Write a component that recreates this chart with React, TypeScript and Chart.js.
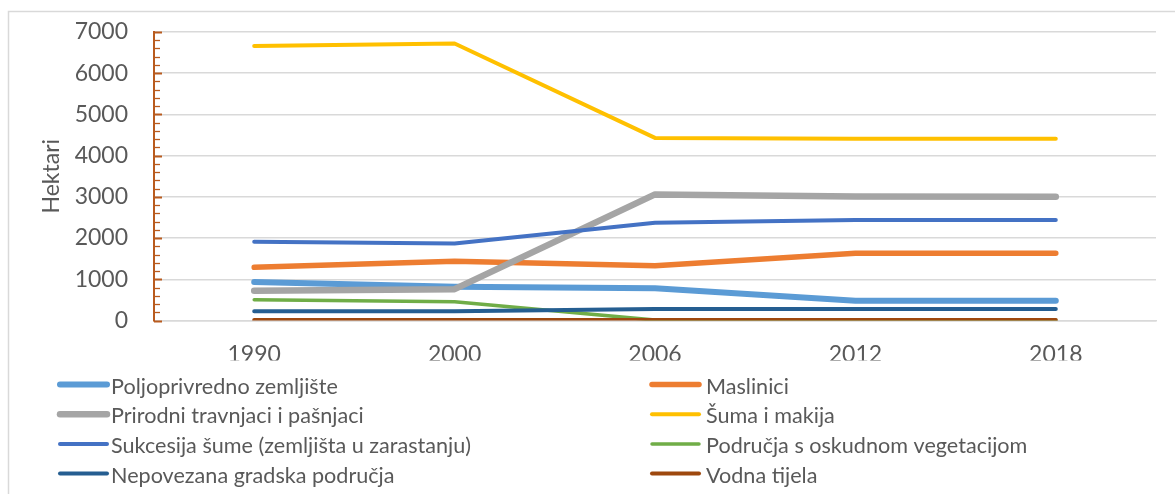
import React, { useEffect, useRef } from "react";
import { Chart, registerables } from "chart.js";

Chart.register(...registerables);

const years = ["1990", "2000", "2006", "2012", "2018"];
const seriesNames = [
  "Poljoprivredno zemljište",
  "Maslinici",
  "Prirodni travnjaci i pašnjaci",
  "Šuma i makija",
  "Sukcesija šume (zemljišta u zarastanju)",
  "Područja s oskudnom vegetacijom",
  "Nepovezana gradska područja",
  "Vodna tijela",
];
const poljoprivredno = [935, 820, 780, 480, 480];
const maslinici = [1290, 1435, 1330, 1630, 1630];
const travnjaci = [720, 760, 3060, 3010, 3005];
const suma = [6660, 6720, 4430, 4410, 4410];
const sukcesija = [1910, 1870, 2370, 2440, 2440];
const oskudna = [505, 455, 10, 10, 10];
const gradska = [223, 225, 280, 280, 280];
const vodna = [12, 12, 12, 12, 12];
const seriesValues = [poljoprivredno, maslinici, travnjaci, suma, sukcesija, oskudna, gradska, vodna];
const seriesColors = ["#5B9BD5", "#ED7D31", "#A5A5A5", "#FFC000", "#4472C4", "#70AD47", "#255E91", "#9E480E"];
const seriesWidths = [6, 5.5, 6.5, 4, 4, 3.5, 4, 4];
const yTicks = [0, 1000, 2000, 3000, 4000, 5000, 6000, 7000];

const FONT = "Lato, 'Open Sans', sans-serif";
const TEXT = "#595959";
const AXIS = "#B95B1E";

const decorPlugin = {
  id: "decor",
  afterDraw(chart: any) {
    const ctx = chart.ctx;
    const y = chart.scales.y;
    const area = chart.chartArea;
    ctx.save();
    // outer frame
    ctx.strokeStyle = "#d9d9d9";
    ctx.lineWidth = 1.5;
    ctx.strokeRect(8.5, 11.5, 1200, 600);
    // inner axis ticks (major + minor)
    ctx.strokeStyle = AXIS;
    for (let v = 0; v <= 7000; v += 200) {
      const py = Math.round(y.getPixelForValue(v)) + 0.5;
      const major = v % 1000 === 0;
      ctx.lineWidth = major ? 2 : 1.3;
      ctx.beginPath();
      ctx.moveTo(area.left, py);
      ctx.lineTo(area.left + (major ? 8 : 6), py);
      ctx.stroke();
    }
    // legend
    const colLine = [60, 652];
    const colText = [111, 706];
    const lineLen = 47;
    ctx.font = "21.6px " + FONT;
    ctx.fillStyle = TEXT;
    ctx.textBaseline = "alphabetic";
    ctx.textAlign = "left";
    chart.data.datasets.forEach((ds: any, i: number) => {
      const col = i % 2;
      const row = Math.floor(i / 2);
      const ly = 384.5 + row * 29.7;
      ctx.strokeStyle = ds.borderColor;
      ctx.lineWidth = ds.borderWidth;
      ctx.lineCap = "round";
      ctx.beginPath();
      ctx.moveTo(colLine[col], ly);
      ctx.lineTo(colLine[col] + lineLen, ly);
      ctx.stroke();
      ctx.fillText(ds.label, colText[col], ly + 9);
    });
    ctx.restore();
  },
};

export default function App() {
  const ref = useRef<HTMLCanvasElement | null>(null);
  useEffect(() => {
    if (!ref.current) return;
    const chart = new Chart(ref.current, {
      type: "line",
      data: {
        labels: years,
        datasets: seriesNames.map((name, i) => ({
          label: name,
          data: seriesValues[i],
          borderColor: seriesColors[i],
          backgroundColor: seriesColors[i],
          borderWidth: seriesWidths[i],
          pointRadius: 0,
          tension: 0,
          borderCapStyle: "round",
          borderJoinStyle: "round",
          fill: false,
          order: seriesNames.length - i,
        })),
      },
      options: {
        responsive: false,
        animation: false,
        layout: { padding: { left: 8, top: 32, right: 19, bottom: 133.5 } },
        plugins: { legend: { display: false }, tooltip: { enabled: false } },
        scales: {
          x: {
            offset: true,
            grid: { display: false, drawTicks: false, offset: true },
            border: { display: true, color: "#d9d9d9", width: 1.5 },
            ticks: { color: TEXT, font: { family: FONT, size: 23 }, padding: 20 },
            afterFit: (s: any) => {
              s.height = 40;
            },
          },
          y: {
            min: 0,
            max: 7000,
            afterBuildTicks: (s: any) => {
              s.ticks = yTicks.map((v) => ({ value: v }));
            },
            grid: { color: "#d9d9d9", lineWidth: 1.5, drawTicks: false },
            border: { display: true, color: AXIS, width: 2 },
            ticks: {
              color: TEXT,
              font: { family: FONT, size: 23 },
              padding: 26,
              callback: (v: any) => String(v),
            },
            title: {
              display: true,
              text: "Hektari",
              color: TEXT,
              font: { family: FONT, size: 23 },
              padding: { top: 30, bottom: 0 },
            },
            afterFit: (s: any) => {
              s.width = 146;
              s.paddingTop = 0;
              s.paddingBottom = 0;
            },
          },
        },
      },
      plugins: [decorPlugin],
    });
    return () => chart.destroy();
  }, []);
  return (
    <div style={{ position: "fixed", left: 0, top: 0, width: 1175, height: 494, background: "#fff" }}>
      <canvas ref={ref} width={1175} height={494} style={{ display: "block" }} />
    </div>
  );
}
